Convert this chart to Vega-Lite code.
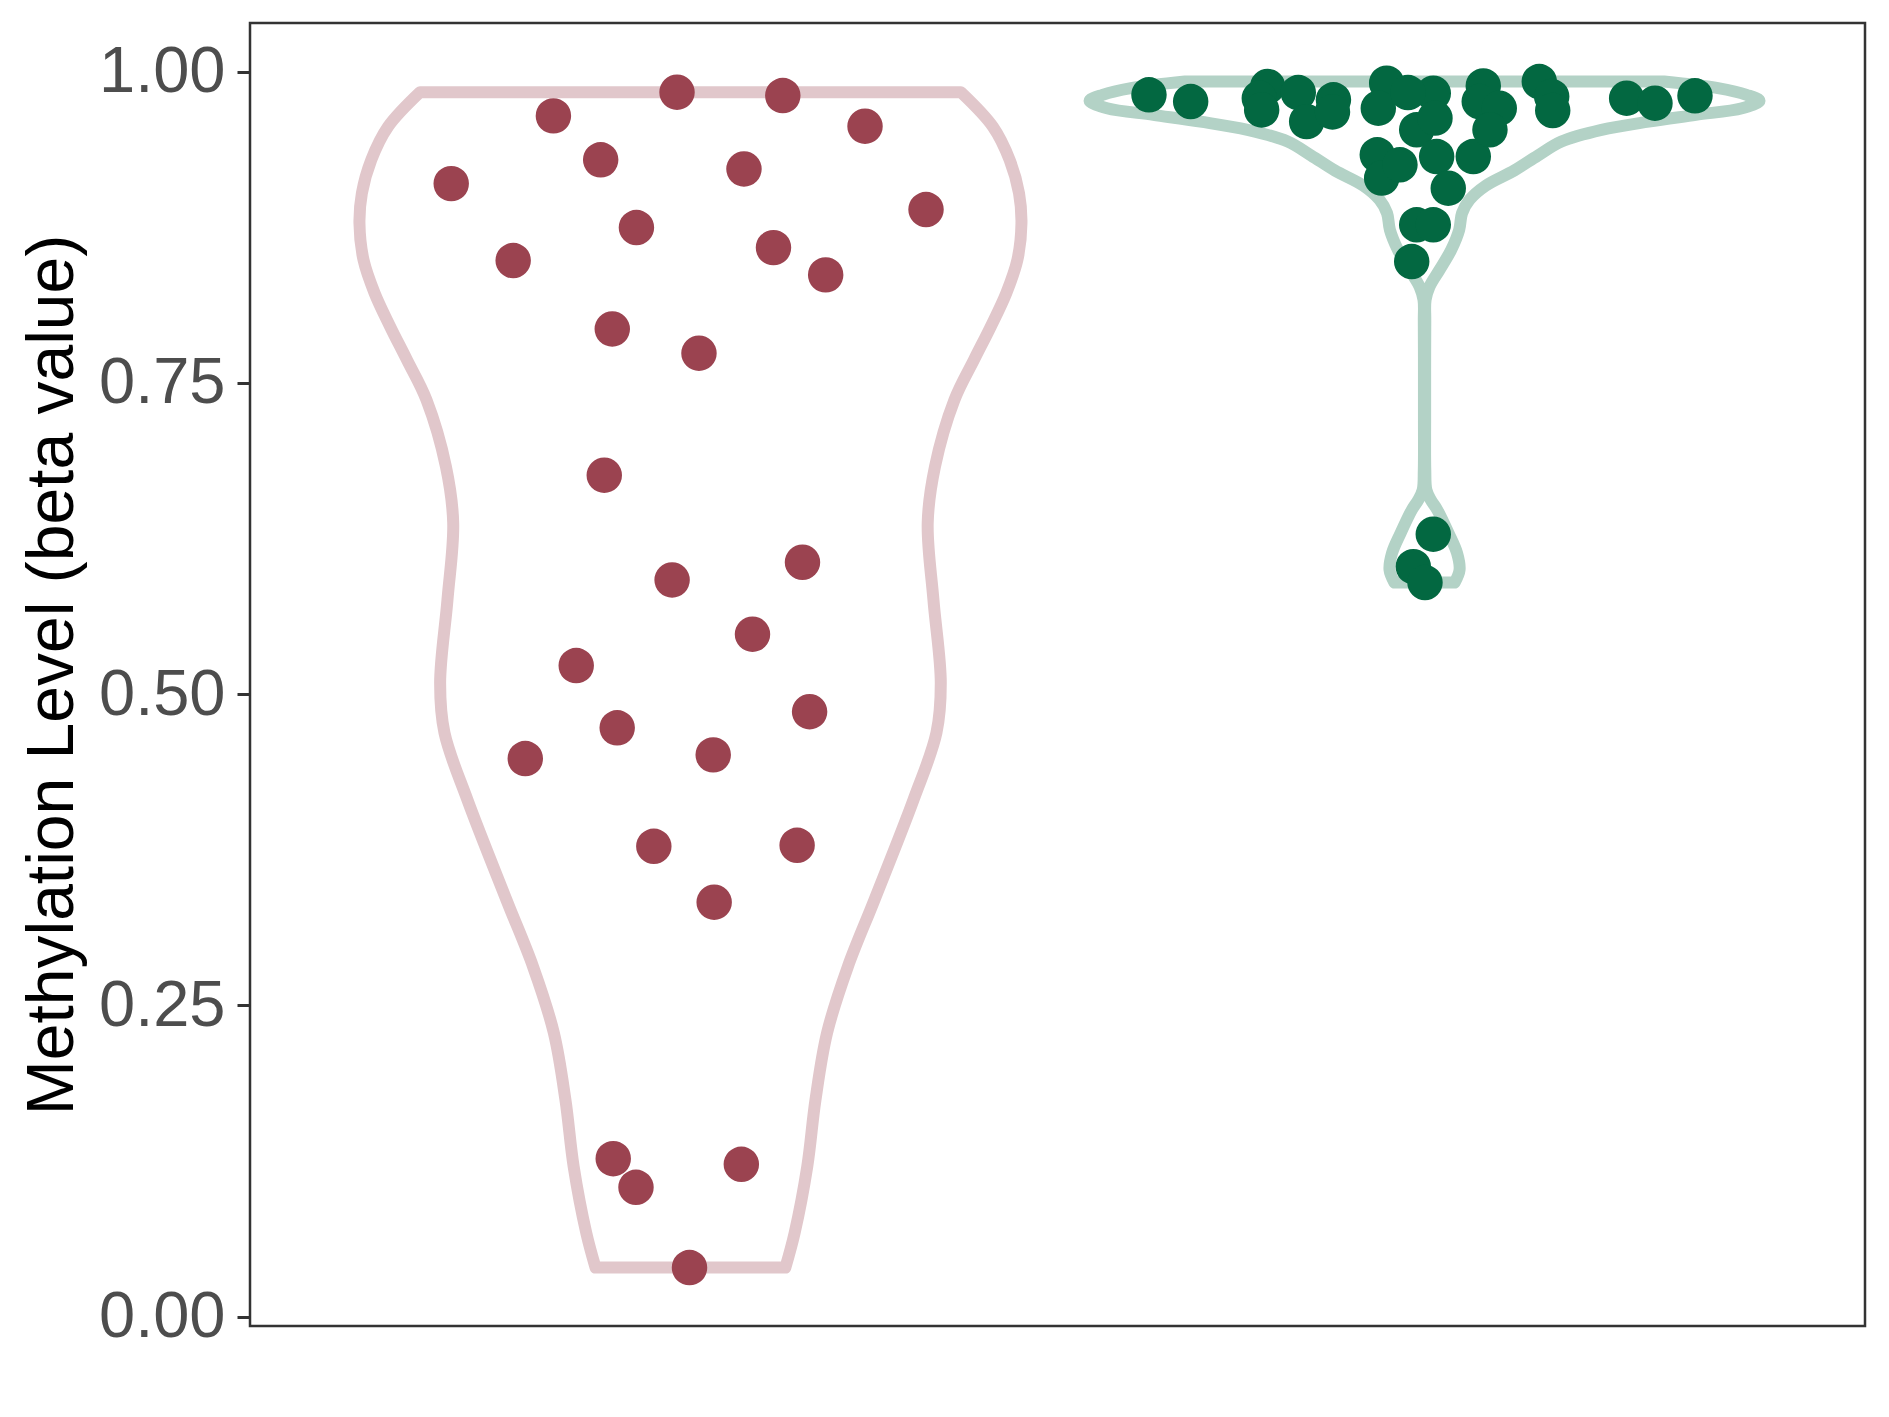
{
  "$schema": "https://vega.github.io/schema/vega-lite/v6.json",
  "width": 1615,
  "height": 1303,
  "autosize": {"type": "none"},
  "padding": {"left": 250, "top": 23, "right": 24, "bottom": 91},
  "background": "white",
  "config": {"view": {"stroke": "#333333", "strokeWidth": 2.5}, "font": "Liberation Sans"},
  "datasets": {
    "violin": [
      {"g": "A", "y": 0.0394, "lo": 0.8707, "hi": 1.1293},
      {"g": "A", "y": 0.0672, "lo": 0.8581, "hi": 1.1419},
      {"g": "A", "y": 0.1205, "lo": 0.8409, "hi": 1.1591},
      {"g": "A", "y": 0.1741, "lo": 0.8297, "hi": 1.1703},
      {"g": "A", "y": 0.2279, "lo": 0.8139, "hi": 1.1861},
      {"g": "A", "y": 0.2811, "lo": 0.7856, "hi": 1.2144},
      {"g": "A", "y": 0.3347, "lo": 0.7494, "hi": 1.2506},
      {"g": "A", "y": 0.4151, "lo": 0.6962, "hi": 1.3038},
      {"g": "A", "y": 0.4689, "lo": 0.6649, "hi": 1.3351},
      {"g": "A", "y": 0.509, "lo": 0.659, "hi": 1.341},
      {"g": "A", "y": 0.5757, "lo": 0.669, "hi": 1.331},
      {"g": "A", "y": 0.6375, "lo": 0.6768, "hi": 1.3232},
      {"g": "A", "y": 0.6827, "lo": 0.6669, "hi": 1.3331},
      {"g": "A", "y": 0.7363, "lo": 0.6404, "hi": 1.3596},
      {"g": "A", "y": 0.7684, "lo": 0.6138, "hi": 1.3862},
      {"g": "A", "y": 0.7952, "lo": 0.5909, "hi": 1.4091},
      {"g": "A", "y": 0.822, "lo": 0.5698, "hi": 1.4302},
      {"g": "A", "y": 0.8488, "lo": 0.5546, "hi": 1.4454},
      {"g": "A", "y": 0.8782, "lo": 0.5491, "hi": 1.4509},
      {"g": "A", "y": 0.9023, "lo": 0.5524, "hi": 1.4476},
      {"g": "A", "y": 0.9291, "lo": 0.5652, "hi": 1.4348},
      {"g": "A", "y": 0.9558, "lo": 0.5881, "hi": 1.4119},
      {"g": "A", "y": 0.9834, "lo": 0.6315, "hi": 1.3685},
      {"g": "B", "y": 0.5896, "lo": 1.959, "hi": 2.041},
      {"g": "B", "y": 0.5998, "lo": 1.9523, "hi": 2.0477},
      {"g": "B", "y": 0.6132, "lo": 1.9557, "hi": 2.0443},
      {"g": "B", "y": 0.6292, "lo": 1.9673, "hi": 2.0327},
      {"g": "B", "y": 0.648, "lo": 1.9827, "hi": 2.0173},
      {"g": "B", "y": 0.656, "lo": 1.9915, "hi": 2.0085},
      {"g": "B", "y": 0.664, "lo": 1.9975, "hi": 2.0025},
      {"g": "B", "y": 0.68, "lo": 1.999, "hi": 2.001},
      {"g": "B", "y": 0.72, "lo": 1.9992, "hi": 2.0008},
      {"g": "B", "y": 0.76, "lo": 1.9992, "hi": 2.0008},
      {"g": "B", "y": 0.8, "lo": 1.999, "hi": 2.001},
      {"g": "B", "y": 0.8166, "lo": 1.9986, "hi": 2.0014},
      {"g": "B", "y": 0.8273, "lo": 1.9932, "hi": 2.0068},
      {"g": "B", "y": 0.8407, "lo": 1.9796, "hi": 2.0204},
      {"g": "B", "y": 0.8568, "lo": 1.9637, "hi": 2.0363},
      {"g": "B", "y": 0.8729, "lo": 1.9528, "hi": 2.0472},
      {"g": "B", "y": 0.8863, "lo": 1.9489, "hi": 2.0511},
      {"g": "B", "y": 0.897, "lo": 1.9387, "hi": 2.0613},
      {"g": "B", "y": 0.9084, "lo": 1.9165, "hi": 2.0835},
      {"g": "B", "y": 0.9205, "lo": 1.8778, "hi": 2.1222},
      {"g": "B", "y": 0.9325, "lo": 1.8457, "hi": 2.1543},
      {"g": "B", "y": 0.9438, "lo": 1.8135, "hi": 2.1865},
      {"g": "B", "y": 0.9532, "lo": 1.7589, "hi": 2.2411},
      {"g": "B", "y": 0.9598, "lo": 1.6946, "hi": 2.3054},
      {"g": "B", "y": 0.9652, "lo": 1.6304, "hi": 2.3696},
      {"g": "B", "y": 0.9706, "lo": 1.5675, "hi": 2.4325},
      {"g": "B", "y": 0.9765, "lo": 1.5437, "hi": 2.4563},
      {"g": "B", "y": 0.9813, "lo": 1.5614, "hi": 2.4386},
      {"g": "B", "y": 0.9867, "lo": 1.6002, "hi": 2.3998},
      {"g": "B", "y": 0.992, "lo": 1.6737, "hi": 2.3263}
    ],
    "points": [
      {"g": "A", "jx": 0.9817, "y": 0.9834},
      {"g": "A", "jx": 1.1258, "y": 0.9807},
      {"g": "A", "jx": 0.8133, "y": 0.9644},
      {"g": "A", "jx": 1.2378, "y": 0.9561},
      {"g": "A", "jx": 0.8777, "y": 0.9291},
      {"g": "A", "jx": 1.0729, "y": 0.9218},
      {"g": "A", "jx": 0.6741, "y": 0.91},
      {"g": "A", "jx": 1.3209, "y": 0.8892},
      {"g": "A", "jx": 0.9264, "y": 0.8747},
      {"g": "A", "jx": 0.7585, "y": 0.8482},
      {"g": "A", "jx": 1.1131, "y": 0.8586},
      {"g": "A", "jx": 1.1842, "y": 0.8367},
      {"g": "A", "jx": 0.8935, "y": 0.7933},
      {"g": "A", "jx": 1.0116, "y": 0.7738},
      {"g": "A", "jx": 0.8826, "y": 0.6758},
      {"g": "A", "jx": 1.1526, "y": 0.6059},
      {"g": "A", "jx": 0.975, "y": 0.5917},
      {"g": "A", "jx": 1.0845, "y": 0.5481},
      {"g": "A", "jx": 0.8444, "y": 0.5229},
      {"g": "A", "jx": 1.1623, "y": 0.4859},
      {"g": "A", "jx": 0.9002, "y": 0.4729},
      {"g": "A", "jx": 0.775, "y": 0.4482},
      {"g": "A", "jx": 1.031, "y": 0.4512},
      {"g": "A", "jx": 0.9501, "y": 0.3778},
      {"g": "A", "jx": 1.1453, "y": 0.3786},
      {"g": "A", "jx": 1.0323, "y": 0.3329},
      {"g": "A", "jx": 0.8948, "y": 0.1269},
      {"g": "A", "jx": 0.9258, "y": 0.1039},
      {"g": "A", "jx": 1.0693, "y": 0.1224},
      {"g": "A", "jx": 0.9987, "y": 0.0394},
      {"g": "B", "jx": 1.6246, "y": 0.9813},
      {"g": "B", "jx": 1.6814, "y": 0.9759},
      {"g": "B", "jx": 1.7863, "y": 0.988},
      {"g": "B", "jx": 1.7749, "y": 0.9786},
      {"g": "B", "jx": 1.7781, "y": 0.9692},
      {"g": "B", "jx": 1.828, "y": 0.9831},
      {"g": "B", "jx": 1.8394, "y": 0.9598},
      {"g": "B", "jx": 1.8759, "y": 0.9773},
      {"g": "B", "jx": 1.8746, "y": 0.9676},
      {"g": "B", "jx": 1.9484, "y": 0.9907},
      {"g": "B", "jx": 1.937, "y": 0.9706},
      {"g": "B", "jx": 2.0119, "y": 0.9826},
      {"g": "B", "jx": 1.9893, "y": 0.9532},
      {"g": "B", "jx": 2.0142, "y": 0.9626},
      {"g": "B", "jx": 1.9356, "y": 0.9331},
      {"g": "B", "jx": 1.9416, "y": 0.9144},
      {"g": "B", "jx": 2.0165, "y": 0.9317},
      {"g": "B", "jx": 2.0323, "y": 0.9063},
      {"g": "B", "jx": 2.0664, "y": 0.9317},
      {"g": "B", "jx": 2.08, "y": 0.9885},
      {"g": "B", "jx": 2.0745, "y": 0.9759},
      {"g": "B", "jx": 2.1018, "y": 0.9706},
      {"g": "B", "jx": 2.0891, "y": 0.9532},
      {"g": "B", "jx": 2.1563, "y": 0.992},
      {"g": "B", "jx": 2.1732, "y": 0.9799},
      {"g": "B", "jx": 2.1746, "y": 0.9687},
      {"g": "B", "jx": 1.9893, "y": 0.8769},
      {"g": "B", "jx": 2.0119, "y": 0.8769},
      {"g": "B", "jx": 1.9825, "y": 0.8474},
      {"g": "B", "jx": 2.2753, "y": 0.9786},
      {"g": "B", "jx": 2.3139, "y": 0.9746},
      {"g": "B", "jx": 2.3684, "y": 0.9805},
      {"g": "B", "jx": 2.0119, "y": 0.6284},
      {"g": "B", "jx": 1.9847, "y": 0.6024},
      {"g": "B", "jx": 2.0006, "y": 0.5896},
      {"g": "B", "jx": 1.9774, "y": 0.9831},
      {"g": "B", "jx": 1.9665, "y": 0.9251}
    ]
  },
  "layer": [
    {
      "data": {"name": "violin"},
      "mark": {"type": "area", "orient": "horizontal", "interpolate": "catmull-rom", "fill": "white", "strokeWidth": 12, "strokeJoin": "round"},
      "encoding": {
        "y": {
          "field": "y", "type": "quantitative",
          "scale": {"domain": [-0.0075, 1.039], "nice": false, "zero": false},
          "axis": {
            "values": [0, 0.25, 0.5, 0.75, 1],
            "format": ".2f",
            "grid": false,
            "domain": false,
            "tickColor": "#333333",
            "tickWidth": 3,
            "tickSize": 13,
            "labelPadding": 12,
            "labelFontSize": 65,
            "labelColor": "#4d4d4d",
            "labelFont": "Liberation Sans",
            "labelFlush": false,
            "labelOverlap": false,
            "title": "Methylation Level (beta value)",
            "titleFontSize": 66,
            "titleFont": "Liberation Sans",
            "titleColor": "black",
            "titleFontWeight": "normal",
            "titleX": -178,
            "titleY": 651.5,
            "titleAngle": 270,
            "titleAlign": "center",
            "titleBaseline": "alphabetic"
          }
        },
        "x": {"field": "lo", "type": "quantitative", "scale": {"domain": [0.4, 2.6], "nice": false, "zero": false}, "axis": null},
        "x2": {"field": "hi"},
        "stroke": {"field": "g", "type": "nominal", "scale": {"domain": ["A", "B"], "range": ["#e1c7cb", "#b3d2c6"]}, "legend": null},
        "detail": {"field": "g"}
      }
    },
    {
      "data": {"name": "points"},
      "mark": {"type": "circle", "size": 1257, "opacity": 1},
      "encoding": {
        "x": {"field": "jx", "type": "quantitative"},
        "y": {"field": "y", "type": "quantitative"},
        "fill": {"field": "g", "type": "nominal", "scale": {"domain": ["A", "B"], "range": ["#9b4350", "#036841"]}, "legend": null}
      }
    }
  ]
}
